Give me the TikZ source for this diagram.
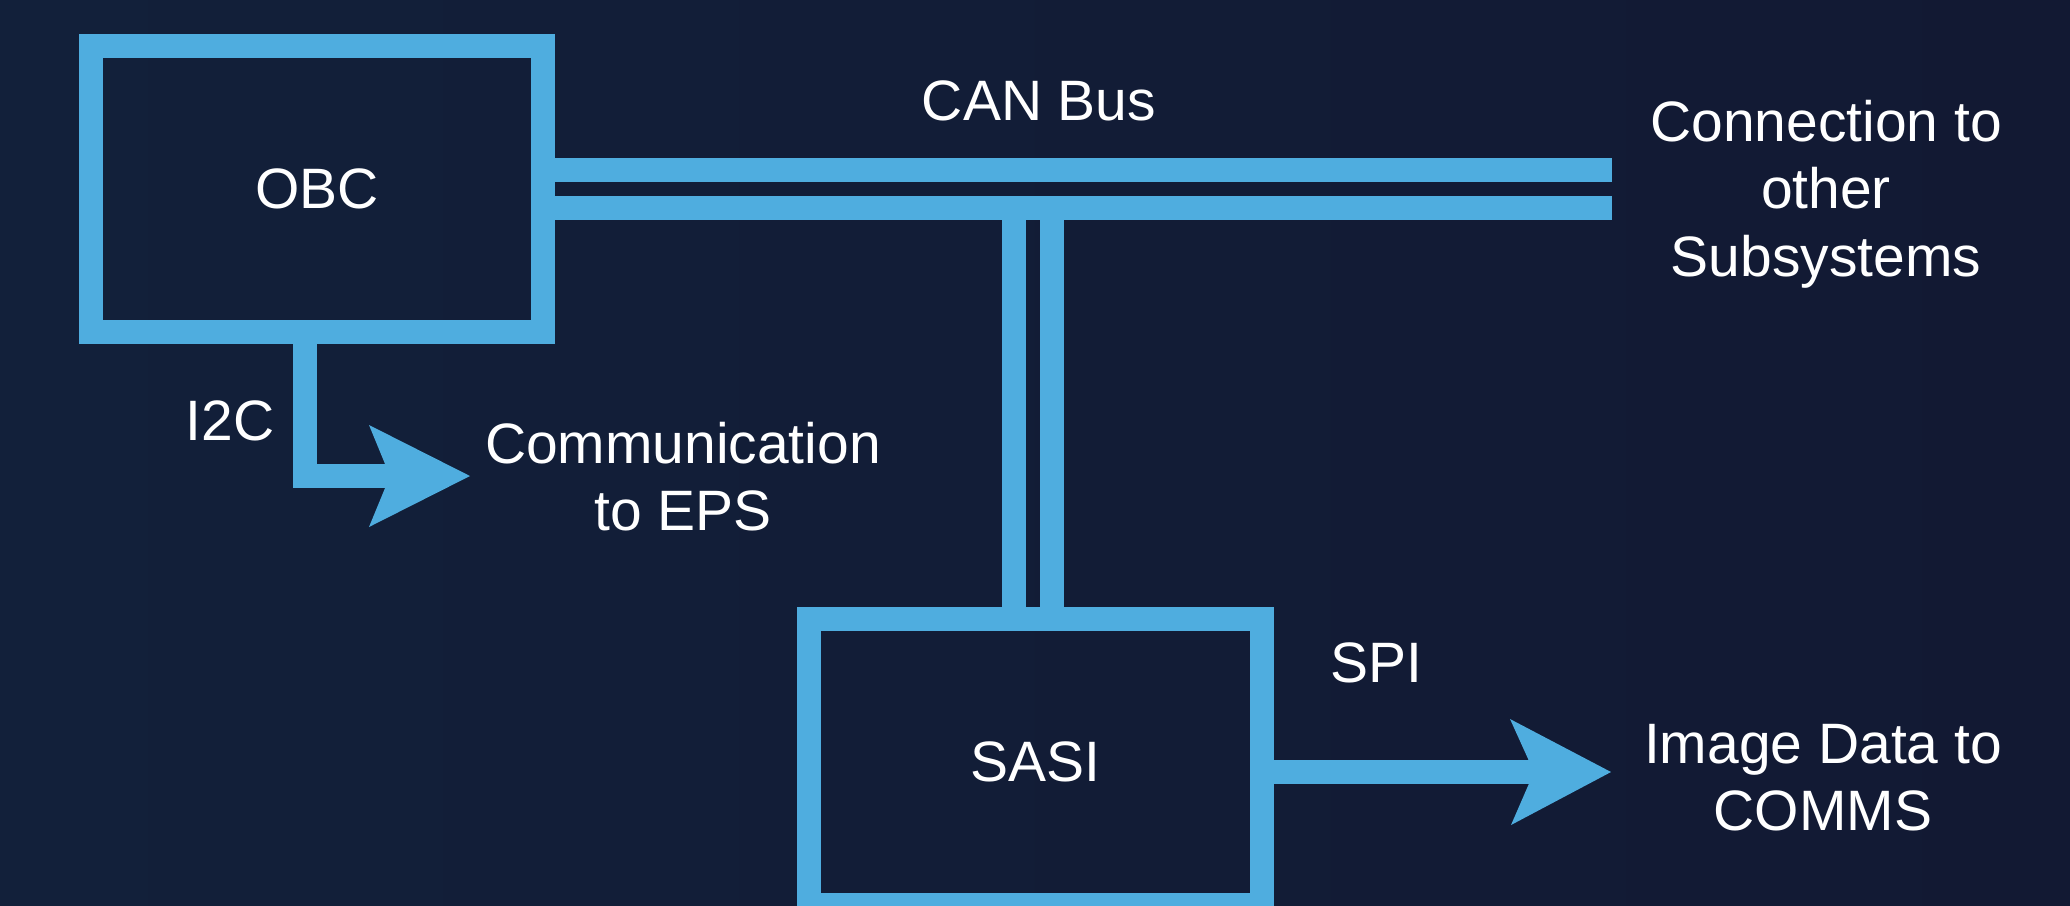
\documentclass[tikz,border=0pt]{standalone}
\usepackage{fontspec}
\setmainfont{Liberation Sans}
\definecolor{wirec}{RGB}{79,173,223}
\definecolor{bgl}{RGB}{18,32,58}
\definecolor{bgr}{RGB}{18,25,51}
\newcommand\dfont{\fontsize{16.2}{19.06}\selectfont}
\begin{document}
\begin{tikzpicture}[x=0.01cm,y=-0.01cm,
  wire/.style={draw=wirec, line width=0.24cm},
  box/.style={draw=wirec, line width=0.24cm, rectangle, minimum width=4.52cm, minimum height=2.86cm, inner sep=0pt, text=white, font=\dfont},
  lbl/.style={text=white, font=\dfont, inner sep=0pt, align=center},
  tipc/.style={fill=wirec}]
\useasboundingbox (0,0) rectangle (2070,905);
\clip (0,0) rectangle (2070,905);
\shade[left color=bgl, right color=bgr] (0,0) rectangle (2070,905);
% boxes
\node[box] (obc) at (317,189) {OBC};
\node[box] (sasi) at (1035.5,762) {SASI};
% CAN bus
\coordinate (canA) at (1612,170);
\coordinate (canB) at (1612,208);
\draw[wire] (obc.east |- canA) -- (canA);
\draw[wire] (obc.east |- canB) -- (canB);
\coordinate (v1) at (1014,208);
\coordinate (v2) at (1052,208);
\draw[wire] (v1) -- (v1 |- sasi.north);
\draw[wire] (v2) -- (v2 |- sasi.north);
% I2C
\coordinate (i2cx) at (305,0);
\coordinate (i2cnotch) at (390,476);
\coordinate (i2ctip) at (470,476);
\draw[wire] (obc.south -| i2cx) |- (i2cnotch);
\fill[tipc] (i2ctip) -- ++(-101,-51) -- (i2cnotch) -- ++(-21,51) -- cycle;
% SPI
\coordinate (spinotch) at (1534,772);
\coordinate (spitip) at (1611,772);
\draw[wire] (sasi.east |- spinotch) -- (spinotch);
\fill[tipc] (spitip) -- ++(-101,-53) -- (spinotch) -- ++(-23,53) -- cycle;
% labels (base anchor of a multi-line node = baseline of its last line)
\node[lbl, anchor=base] (can) at (1039,120) {CAN Bus};
\node[lbl, anchor=base] (conn) at (1826,276) {Connection to\\other\\Subsystems};
\node[lbl, anchor=base] (i2c) at (230,440) {I2C};
\node[lbl, anchor=base] (eps) at (683,530.5) {Communication\\to EPS};
\node[lbl, anchor=base] (spi) at (1376,682) {SPI};
\node[lbl, anchor=base] (comms) at (1823,830.5) {Image Data to\\COMMS};
\end{tikzpicture}
\end{document}
